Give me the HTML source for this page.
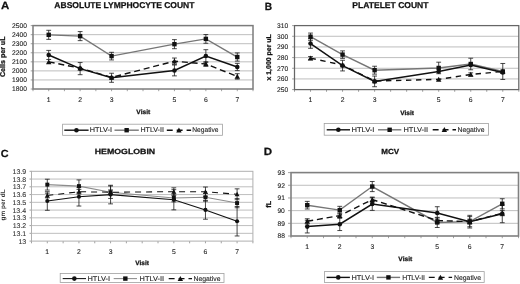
<!DOCTYPE html>
<html><head><meta charset="utf-8"><style>
html,body{margin:0;padding:0;background:#fff;}
body{width:520px;height:284px;overflow:hidden;}
svg{display:block;font-family:"Liberation Sans", sans-serif;will-change:transform;}
text{text-rendering:geometricPrecision;}
</style></head><body>
<svg width="520" height="284" viewBox="0 0 520 284">
<rect width="520" height="284" fill="#fff"/>
<line x1="30.7" y1="89" x2="33" y2="89" stroke="#8a8a8a" stroke-width="0.8"/>
<text x="12.06" y="91.4" font-size="6.7" stroke="#222" stroke-width="0.1" textLength="14.9" lengthAdjust="spacingAndGlyphs" fill="#222">1800</text>
<line x1="33" y1="79.94" x2="253" y2="79.94" stroke="#bebebe" stroke-width="1"/>
<line x1="30.7" y1="79.94" x2="33" y2="79.94" stroke="#8a8a8a" stroke-width="0.8"/>
<text x="12.06" y="82.34" font-size="6.7" stroke="#222" stroke-width="0.1" textLength="14.9" lengthAdjust="spacingAndGlyphs" fill="#222">1900</text>
<line x1="33" y1="70.89" x2="253" y2="70.89" stroke="#bebebe" stroke-width="1"/>
<line x1="30.7" y1="70.89" x2="33" y2="70.89" stroke="#8a8a8a" stroke-width="0.8"/>
<text x="12.06" y="73.28" font-size="6.7" stroke="#222" stroke-width="0.1" textLength="14.9" lengthAdjust="spacingAndGlyphs" fill="#222">2000</text>
<line x1="33" y1="61.83" x2="253" y2="61.83" stroke="#bebebe" stroke-width="1"/>
<line x1="30.7" y1="61.83" x2="33" y2="61.83" stroke="#8a8a8a" stroke-width="0.8"/>
<text x="12.06" y="64.23" font-size="6.7" stroke="#222" stroke-width="0.1" textLength="14.9" lengthAdjust="spacingAndGlyphs" fill="#222">2100</text>
<line x1="33" y1="52.77" x2="253" y2="52.77" stroke="#bebebe" stroke-width="1"/>
<line x1="30.7" y1="52.77" x2="33" y2="52.77" stroke="#8a8a8a" stroke-width="0.8"/>
<text x="12.06" y="55.17" font-size="6.7" stroke="#222" stroke-width="0.1" textLength="14.9" lengthAdjust="spacingAndGlyphs" fill="#222">2200</text>
<line x1="33" y1="43.71" x2="253" y2="43.71" stroke="#bebebe" stroke-width="1"/>
<line x1="30.7" y1="43.71" x2="33" y2="43.71" stroke="#8a8a8a" stroke-width="0.8"/>
<text x="12.06" y="46.11" font-size="6.7" stroke="#222" stroke-width="0.1" textLength="14.9" lengthAdjust="spacingAndGlyphs" fill="#222">2300</text>
<line x1="33" y1="34.66" x2="253" y2="34.66" stroke="#bebebe" stroke-width="1"/>
<line x1="30.7" y1="34.66" x2="33" y2="34.66" stroke="#8a8a8a" stroke-width="0.8"/>
<text x="12.06" y="37.06" font-size="6.7" stroke="#222" stroke-width="0.1" textLength="14.9" lengthAdjust="spacingAndGlyphs" fill="#222">2400</text>
<line x1="30.7" y1="25.6" x2="33" y2="25.6" stroke="#8a8a8a" stroke-width="0.8"/>
<text x="12.06" y="28" font-size="6.7" stroke="#222" stroke-width="0.1" textLength="14.9" lengthAdjust="spacingAndGlyphs" fill="#222">2500</text>
<line x1="33" y1="89" x2="33" y2="91.2" stroke="#8a8a8a" stroke-width="0.8"/>
<line x1="48.71" y1="89" x2="48.71" y2="91.2" stroke="#8a8a8a" stroke-width="0.8"/>
<line x1="64.43" y1="89" x2="64.43" y2="91.2" stroke="#8a8a8a" stroke-width="0.8"/>
<line x1="80.14" y1="89" x2="80.14" y2="91.2" stroke="#8a8a8a" stroke-width="0.8"/>
<line x1="95.86" y1="89" x2="95.86" y2="91.2" stroke="#8a8a8a" stroke-width="0.8"/>
<line x1="111.57" y1="89" x2="111.57" y2="91.2" stroke="#8a8a8a" stroke-width="0.8"/>
<line x1="127.29" y1="89" x2="127.29" y2="91.2" stroke="#8a8a8a" stroke-width="0.8"/>
<line x1="143" y1="89" x2="143" y2="91.2" stroke="#8a8a8a" stroke-width="0.8"/>
<line x1="158.71" y1="89" x2="158.71" y2="91.2" stroke="#8a8a8a" stroke-width="0.8"/>
<line x1="174.43" y1="89" x2="174.43" y2="91.2" stroke="#8a8a8a" stroke-width="0.8"/>
<line x1="190.14" y1="89" x2="190.14" y2="91.2" stroke="#8a8a8a" stroke-width="0.8"/>
<line x1="205.86" y1="89" x2="205.86" y2="91.2" stroke="#8a8a8a" stroke-width="0.8"/>
<line x1="221.57" y1="89" x2="221.57" y2="91.2" stroke="#8a8a8a" stroke-width="0.8"/>
<line x1="237.29" y1="89" x2="237.29" y2="91.2" stroke="#8a8a8a" stroke-width="0.8"/>
<line x1="253" y1="89" x2="253" y2="91.2" stroke="#8a8a8a" stroke-width="0.8"/>
<text x="46.73" y="101.8" font-size="6.8" stroke="#222" stroke-width="0.1" textLength="3.78" lengthAdjust="spacingAndGlyphs" fill="#222">1</text>
<text x="78.25" y="101.8" font-size="6.8" stroke="#222" stroke-width="0.1" textLength="3.78" lengthAdjust="spacingAndGlyphs" fill="#222">2</text>
<text x="109.7" y="101.8" font-size="6.8" stroke="#222" stroke-width="0.1" textLength="3.78" lengthAdjust="spacingAndGlyphs" fill="#222">3</text>
<text x="172.54" y="101.8" font-size="6.8" stroke="#222" stroke-width="0.1" textLength="3.78" lengthAdjust="spacingAndGlyphs" fill="#222">5</text>
<text x="203.94" y="101.8" font-size="6.8" stroke="#222" stroke-width="0.1" textLength="3.78" lengthAdjust="spacingAndGlyphs" fill="#222">6</text>
<text x="235.39" y="101.8" font-size="6.8" stroke="#222" stroke-width="0.1" textLength="3.78" lengthAdjust="spacingAndGlyphs" fill="#222">7</text>
<rect x="33" y="25.6" width="220" height="63.4" fill="none" stroke="#7c7c7c" stroke-width="1.5"/>
<path d="M48.71 30.31V39.37M46.31 30.31h4.8M46.31 39.37h4.8" stroke="#1a1a1a" stroke-width="0.8" fill="none"/>
<path d="M80.14 31.58V40.63M77.74 31.58h4.8M77.74 40.63h4.8" stroke="#1a1a1a" stroke-width="0.8" fill="none"/>
<path d="M111.57 52.32V59.93M109.17 52.32h4.8M109.17 59.93h4.8" stroke="#1a1a1a" stroke-width="0.8" fill="none"/>
<path d="M174.43 39.64V48.7M172.03 39.64h4.8M172.03 48.7h4.8" stroke="#1a1a1a" stroke-width="0.8" fill="none"/>
<path d="M205.86 34.57V43.26M203.46 34.57h4.8M203.46 43.26h4.8" stroke="#1a1a1a" stroke-width="0.8" fill="none"/>
<path d="M237.29 52.95V61.1M234.89 52.95h4.8M234.89 61.1h4.8" stroke="#1a1a1a" stroke-width="0.8" fill="none"/>
<path d="M48.71 50.42V59.47M46.31 50.42h4.8M46.31 59.47h4.8" stroke="#1a1a1a" stroke-width="0.8" fill="none"/>
<path d="M80.14 62.55V74.69M77.74 62.55h4.8M77.74 74.69h4.8" stroke="#1a1a1a" stroke-width="0.8" fill="none"/>
<path d="M111.57 73.24V82.3M109.17 73.24h4.8M109.17 82.3h4.8" stroke="#1a1a1a" stroke-width="0.8" fill="none"/>
<path d="M174.43 65V75.87M172.03 65h4.8M172.03 75.87h4.8" stroke="#1a1a1a" stroke-width="0.8" fill="none"/>
<path d="M205.86 49.69V62.37M203.46 49.69h4.8M203.46 62.37h4.8" stroke="#1a1a1a" stroke-width="0.8" fill="none"/>
<path d="M237.29 63.37V70.61M234.89 63.37h4.8M234.89 70.61h4.8" stroke="#1a1a1a" stroke-width="0.8" fill="none"/>
<path d="M174.43 58.02V64.36M172.03 58.02h4.8M172.03 64.36h4.8" stroke="#1a1a1a" stroke-width="0.8" fill="none"/>
<path d="M205.86 61.74V66.27M203.46 61.74h4.8M203.46 66.27h4.8" stroke="#1a1a1a" stroke-width="0.8" fill="none"/>
<path d="M237.29 73.69V79.13M234.89 73.69h4.8M234.89 79.13h4.8" stroke="#1a1a1a" stroke-width="0.8" fill="none"/>
<polyline points="48.71,34.84 80.14,36.11 111.57,56.12 174.43,44.17 205.86,38.91 237.29,57.03" fill="none" stroke="#767676" stroke-width="1.4"/>
<polyline points="48.71,61.83 80.14,68.17 111.57,77.41 174.43,61.19 205.86,64 237.29,76.41" fill="none" stroke="#111" stroke-width="1.4" stroke-dasharray="6 3.8"/>
<polyline points="48.71,54.95 80.14,68.62 111.57,77.77 174.43,70.43 205.86,56.03 237.29,66.99" fill="none" stroke="#111" stroke-width="1.5"/>
<rect x="46.51" y="32.64" width="4.4" height="4.4" fill="#111"/>
<rect x="77.94" y="33.91" width="4.4" height="4.4" fill="#111"/>
<rect x="109.37" y="53.92" width="4.4" height="4.4" fill="#111"/>
<rect x="172.23" y="41.97" width="4.4" height="4.4" fill="#111"/>
<rect x="203.66" y="36.71" width="4.4" height="4.4" fill="#111"/>
<rect x="235.09" y="54.83" width="4.4" height="4.4" fill="#111"/>
<path d="M48.71 59.13L51.41 64.13H46.01Z" fill="#111"/>
<path d="M80.14 65.47L82.84 70.47H77.44Z" fill="#111"/>
<path d="M111.57 74.71L114.27 79.71H108.87Z" fill="#111"/>
<path d="M174.43 58.49L177.13 63.49H171.73Z" fill="#111"/>
<path d="M205.86 61.3L208.56 66.3H203.16Z" fill="#111"/>
<path d="M237.29 73.71L239.99 78.71H234.59Z" fill="#111"/>
<circle cx="48.71" cy="54.95" r="2.3" fill="#111"/>
<circle cx="80.14" cy="68.62" r="2.3" fill="#111"/>
<circle cx="111.57" cy="77.77" r="2.3" fill="#111"/>
<circle cx="174.43" cy="70.43" r="2.3" fill="#111"/>
<circle cx="205.86" cy="56.03" r="2.3" fill="#111"/>
<circle cx="237.29" cy="66.99" r="2.3" fill="#111"/>
<text x="1.11" y="9.1" font-size="10.4" font-weight="bold" stroke="#111" stroke-width="0.25" textLength="8.29" lengthAdjust="spacingAndGlyphs" fill="#111">A</text>
<text x="54.39" y="7.6" font-size="8.5" font-weight="bold" stroke="#111" stroke-width="0.25" textLength="140.1" lengthAdjust="spacingAndGlyphs" fill="#111">ABSOLUTE LYMPHOCYTE COUNT</text>
<text transform="translate(4.6,76.99) rotate(-90)" x="0" y="0" font-size="7.0" font-weight="bold" stroke="#111" stroke-width="0.25" textLength="40.51" lengthAdjust="spacingAndGlyphs" fill="#111">Cells per uL</text>
<text x="136.36" y="113.8" font-size="6.3" font-weight="bold" stroke="#111" stroke-width="0.25" textLength="13.82" lengthAdjust="spacingAndGlyphs" fill="#111">Visit</text>
<rect x="62.6" y="124.2" width="159.8" height="11.1" fill="#fff" stroke="#a0a0a0" stroke-width="0.8"/>
<line x1="64.3" y1="130.2" x2="88.6" y2="130.2" stroke="#111" stroke-width="1.4"/>
<circle cx="76.45" cy="130.2" r="2.3" fill="#111"/>
<text x="89.83" y="132.3" font-size="6.8" stroke="#222" stroke-width="0.1" textLength="22.12" lengthAdjust="spacingAndGlyphs" fill="#222">HTLV-I</text>
<line x1="114.5" y1="130.2" x2="138.8" y2="130.2" stroke="#767676" stroke-width="1.4"/>
<rect x="124.45" y="128" width="4.4" height="4.4" fill="#111"/>
<text x="140.44" y="132.3" font-size="6.8" stroke="#222" stroke-width="0.1" textLength="23.49" lengthAdjust="spacingAndGlyphs" fill="#222">HTLV-II</text>
<line x1="166.8" y1="130.2" x2="191.1" y2="130.2" stroke="#111" stroke-width="1.4" stroke-dasharray="5.9 4"/>
<path d="M178.95 127.5L181.65 132.5H176.25Z" fill="#111"/>
<text x="192.25" y="132.3" font-size="6.8" stroke="#222" stroke-width="0.1" textLength="26.24" lengthAdjust="spacingAndGlyphs" fill="#222">Negative</text>
<line x1="292.1" y1="89.6" x2="294.5" y2="89.6" stroke="#8a8a8a" stroke-width="0.8"/>
<text x="276.98" y="92" font-size="6.7" stroke="#222" stroke-width="0.1" textLength="11.18" lengthAdjust="spacingAndGlyphs" fill="#222">250</text>
<line x1="294.5" y1="78.93" x2="518.8" y2="78.93" stroke="#bebebe" stroke-width="1"/>
<line x1="292.1" y1="78.93" x2="294.5" y2="78.93" stroke="#8a8a8a" stroke-width="0.8"/>
<text x="276.98" y="81.33" font-size="6.7" stroke="#222" stroke-width="0.1" textLength="11.18" lengthAdjust="spacingAndGlyphs" fill="#222">260</text>
<line x1="294.5" y1="68.27" x2="518.8" y2="68.27" stroke="#bebebe" stroke-width="1"/>
<line x1="292.1" y1="68.27" x2="294.5" y2="68.27" stroke="#8a8a8a" stroke-width="0.8"/>
<text x="276.98" y="70.67" font-size="6.7" stroke="#222" stroke-width="0.1" textLength="11.18" lengthAdjust="spacingAndGlyphs" fill="#222">270</text>
<line x1="294.5" y1="57.6" x2="518.8" y2="57.6" stroke="#bebebe" stroke-width="1"/>
<line x1="292.1" y1="57.6" x2="294.5" y2="57.6" stroke="#8a8a8a" stroke-width="0.8"/>
<text x="276.98" y="60" font-size="6.7" stroke="#222" stroke-width="0.1" textLength="11.18" lengthAdjust="spacingAndGlyphs" fill="#222">280</text>
<line x1="294.5" y1="46.93" x2="518.8" y2="46.93" stroke="#bebebe" stroke-width="1"/>
<line x1="292.1" y1="46.93" x2="294.5" y2="46.93" stroke="#8a8a8a" stroke-width="0.8"/>
<text x="276.98" y="49.33" font-size="6.7" stroke="#222" stroke-width="0.1" textLength="11.18" lengthAdjust="spacingAndGlyphs" fill="#222">290</text>
<line x1="294.5" y1="36.27" x2="518.8" y2="36.27" stroke="#bebebe" stroke-width="1"/>
<line x1="292.1" y1="36.27" x2="294.5" y2="36.27" stroke="#8a8a8a" stroke-width="0.8"/>
<text x="276.98" y="38.67" font-size="6.7" stroke="#222" stroke-width="0.1" textLength="11.18" lengthAdjust="spacingAndGlyphs" fill="#222">300</text>
<line x1="292.1" y1="25.6" x2="294.5" y2="25.6" stroke="#8a8a8a" stroke-width="0.8"/>
<text x="276.98" y="28" font-size="6.7" stroke="#222" stroke-width="0.1" textLength="11.18" lengthAdjust="spacingAndGlyphs" fill="#222">310</text>
<line x1="294.5" y1="89.6" x2="294.5" y2="91.8" stroke="#8a8a8a" stroke-width="0.8"/>
<line x1="310.52" y1="89.6" x2="310.52" y2="91.8" stroke="#8a8a8a" stroke-width="0.8"/>
<line x1="326.54" y1="89.6" x2="326.54" y2="91.8" stroke="#8a8a8a" stroke-width="0.8"/>
<line x1="342.56" y1="89.6" x2="342.56" y2="91.8" stroke="#8a8a8a" stroke-width="0.8"/>
<line x1="358.59" y1="89.6" x2="358.59" y2="91.8" stroke="#8a8a8a" stroke-width="0.8"/>
<line x1="374.61" y1="89.6" x2="374.61" y2="91.8" stroke="#8a8a8a" stroke-width="0.8"/>
<line x1="390.63" y1="89.6" x2="390.63" y2="91.8" stroke="#8a8a8a" stroke-width="0.8"/>
<line x1="406.65" y1="89.6" x2="406.65" y2="91.8" stroke="#8a8a8a" stroke-width="0.8"/>
<line x1="422.67" y1="89.6" x2="422.67" y2="91.8" stroke="#8a8a8a" stroke-width="0.8"/>
<line x1="438.69" y1="89.6" x2="438.69" y2="91.8" stroke="#8a8a8a" stroke-width="0.8"/>
<line x1="454.71" y1="89.6" x2="454.71" y2="91.8" stroke="#8a8a8a" stroke-width="0.8"/>
<line x1="470.74" y1="89.6" x2="470.74" y2="91.8" stroke="#8a8a8a" stroke-width="0.8"/>
<line x1="486.76" y1="89.6" x2="486.76" y2="91.8" stroke="#8a8a8a" stroke-width="0.8"/>
<line x1="502.78" y1="89.6" x2="502.78" y2="91.8" stroke="#8a8a8a" stroke-width="0.8"/>
<line x1="518.8" y1="89.6" x2="518.8" y2="91.8" stroke="#8a8a8a" stroke-width="0.8"/>
<text x="308.54" y="102.4" font-size="6.8" stroke="#222" stroke-width="0.1" textLength="3.78" lengthAdjust="spacingAndGlyphs" fill="#222">1</text>
<text x="340.67" y="102.4" font-size="6.8" stroke="#222" stroke-width="0.1" textLength="3.78" lengthAdjust="spacingAndGlyphs" fill="#222">2</text>
<text x="372.74" y="102.4" font-size="6.8" stroke="#222" stroke-width="0.1" textLength="3.78" lengthAdjust="spacingAndGlyphs" fill="#222">3</text>
<text x="436.81" y="102.4" font-size="6.8" stroke="#222" stroke-width="0.1" textLength="3.78" lengthAdjust="spacingAndGlyphs" fill="#222">5</text>
<text x="468.82" y="102.4" font-size="6.8" stroke="#222" stroke-width="0.1" textLength="3.78" lengthAdjust="spacingAndGlyphs" fill="#222">6</text>
<text x="500.88" y="102.4" font-size="6.8" stroke="#222" stroke-width="0.1" textLength="3.78" lengthAdjust="spacingAndGlyphs" fill="#222">7</text>
<rect x="294.5" y="25.6" width="224.3" height="64" fill="none" stroke="#666" stroke-width="1.25"/>
<path d="M310.52 33.07V40.32M308.12 33.07h4.8M308.12 40.32h4.8" stroke="#1a1a1a" stroke-width="0.8" fill="none"/>
<path d="M342.56 50.88V58.35M340.16 50.88h4.8M340.16 58.35h4.8" stroke="#1a1a1a" stroke-width="0.8" fill="none"/>
<path d="M374.61 66.24V74.13M372.21 66.24h4.8M372.21 74.13h4.8" stroke="#1a1a1a" stroke-width="0.8" fill="none"/>
<path d="M438.69 62.19V73.71M436.29 62.19h4.8M436.29 73.71h4.8" stroke="#1a1a1a" stroke-width="0.8" fill="none"/>
<path d="M470.74 58.24V69.76M468.34 58.24h4.8M468.34 69.76h4.8" stroke="#1a1a1a" stroke-width="0.8" fill="none"/>
<path d="M502.78 63.47V79.47M500.38 63.47h4.8M500.38 79.47h4.8" stroke="#1a1a1a" stroke-width="0.8" fill="none"/>
<path d="M310.52 38.72V48.32M308.12 38.72h4.8M308.12 48.32h4.8" stroke="#1a1a1a" stroke-width="0.8" fill="none"/>
<path d="M342.56 60.27V70.93M340.16 60.27h4.8M340.16 70.93h4.8" stroke="#1a1a1a" stroke-width="0.8" fill="none"/>
<path d="M374.61 76.05V86.72M372.21 76.05h4.8M372.21 86.72h4.8" stroke="#1a1a1a" stroke-width="0.8" fill="none"/>
<path d="M310.52 56.53V59.73M308.12 56.53h4.8M308.12 59.73h4.8" stroke="#1a1a1a" stroke-width="0.8" fill="none"/>
<path d="M470.74 72.85V76.05M468.34 72.85h4.8M468.34 76.05h4.8" stroke="#1a1a1a" stroke-width="0.8" fill="none"/>
<polyline points="310.52,36.69 342.56,54.61 374.61,70.19 438.69,67.95 470.74,64 502.78,71.47" fill="none" stroke="#767676" stroke-width="1.4"/>
<polyline points="310.52,58.13 342.56,65.07 374.61,81.07 438.69,79.36 470.74,74.45 502.78,71.47" fill="none" stroke="#111" stroke-width="1.4" stroke-dasharray="5.4 4.6"/>
<polyline points="310.52,43.52 342.56,65.6 374.61,81.39 438.69,71.47 470.74,65.07 502.78,72.53" fill="none" stroke="#111" stroke-width="1.5"/>
<rect x="308.32" y="34.49" width="4.4" height="4.4" fill="#111"/>
<rect x="340.36" y="52.41" width="4.4" height="4.4" fill="#111"/>
<rect x="372.41" y="67.99" width="4.4" height="4.4" fill="#111"/>
<rect x="436.49" y="65.75" width="4.4" height="4.4" fill="#111"/>
<rect x="468.54" y="61.8" width="4.4" height="4.4" fill="#111"/>
<rect x="500.58" y="69.27" width="4.4" height="4.4" fill="#111"/>
<path d="M310.52 55.43L313.22 60.43H307.82Z" fill="#111"/>
<path d="M342.56 62.37L345.26 67.37H339.86Z" fill="#111"/>
<path d="M374.61 78.37L377.31 83.37H371.91Z" fill="#111"/>
<path d="M438.69 76.66L441.39 81.66H435.99Z" fill="#111"/>
<path d="M470.74 71.75L473.44 76.75H468.04Z" fill="#111"/>
<path d="M502.78 68.77L505.48 73.77H500.08Z" fill="#111"/>
<circle cx="310.52" cy="43.52" r="2.3" fill="#111"/>
<circle cx="342.56" cy="65.6" r="2.3" fill="#111"/>
<circle cx="374.61" cy="81.39" r="2.3" fill="#111"/>
<circle cx="438.69" cy="71.47" r="2.3" fill="#111"/>
<circle cx="470.74" cy="65.07" r="2.3" fill="#111"/>
<circle cx="502.78" cy="72.53" r="2.3" fill="#111"/>
<text x="264.82" y="9.6" font-size="10.4" font-weight="bold" stroke="#111" stroke-width="0.25" textLength="7.34" lengthAdjust="spacingAndGlyphs" fill="#111">B</text>
<text x="352.33" y="7.6" font-size="8.5" font-weight="bold" stroke="#111" stroke-width="0.25" textLength="76.16" lengthAdjust="spacingAndGlyphs" fill="#111">PLATELET COUNT</text>
<text transform="translate(271.1,80.55) rotate(-90)" x="0" y="0" font-size="6.9" font-weight="bold" stroke="#111" stroke-width="0.25" textLength="46.36" lengthAdjust="spacingAndGlyphs" fill="#111">x 1,000 per uL</text>
<text x="400.26" y="114.8" font-size="6.3" font-weight="bold" stroke="#111" stroke-width="0.25" textLength="13.62" lengthAdjust="spacingAndGlyphs" fill="#111">Visit</text>
<rect x="324.2" y="123.5" width="164.3" height="11.7" fill="#fff" stroke="#a0a0a0" stroke-width="0.8"/>
<line x1="326.7" y1="129.8" x2="350" y2="129.8" stroke="#111" stroke-width="1.4"/>
<circle cx="338.35" cy="129.8" r="2.3" fill="#111"/>
<text x="351.51" y="131.9" font-size="6.8" stroke="#222" stroke-width="0.1" textLength="22.96" lengthAdjust="spacingAndGlyphs" fill="#222">HTLV-I</text>
<line x1="378" y1="129.8" x2="401.3" y2="129.8" stroke="#767676" stroke-width="1.4"/>
<rect x="387.45" y="127.6" width="4.4" height="4.4" fill="#111"/>
<text x="403.51" y="131.9" font-size="6.8" stroke="#222" stroke-width="0.1" textLength="24.65" lengthAdjust="spacingAndGlyphs" fill="#222">HTLV-II</text>
<line x1="432.7" y1="129.8" x2="456" y2="129.8" stroke="#111" stroke-width="1.4" stroke-dasharray="5.9 4"/>
<path d="M444.35 127.1L447.05 132.1H441.65Z" fill="#111"/>
<text x="457.54" y="131.9" font-size="6.8" stroke="#222" stroke-width="0.1" textLength="26.96" lengthAdjust="spacingAndGlyphs" fill="#222">Negative</text>
<line x1="29.5" y1="241.1" x2="31.5" y2="241.1" stroke="#8a8a8a" stroke-width="0.8"/>
<text x="18.42" y="243.61" font-size="7.0" stroke="#333" stroke-width="0.1" textLength="7.79" lengthAdjust="spacingAndGlyphs" fill="#333">13</text>
<line x1="31.5" y1="233.34" x2="252.9" y2="233.34" stroke="#bebebe" stroke-width="1"/>
<line x1="29.5" y1="233.34" x2="31.5" y2="233.34" stroke="#8a8a8a" stroke-width="0.8"/>
<text x="12.62" y="235.85" font-size="7.0" stroke="#333" stroke-width="0.1" textLength="13.62" lengthAdjust="spacingAndGlyphs" fill="#333">13.1</text>
<line x1="31.5" y1="225.59" x2="252.9" y2="225.59" stroke="#bebebe" stroke-width="1"/>
<line x1="29.5" y1="225.59" x2="31.5" y2="225.59" stroke="#8a8a8a" stroke-width="0.8"/>
<text x="12.63" y="228.09" font-size="7.0" stroke="#333" stroke-width="0.1" textLength="13.62" lengthAdjust="spacingAndGlyphs" fill="#333">13.2</text>
<line x1="31.5" y1="217.83" x2="252.9" y2="217.83" stroke="#bebebe" stroke-width="1"/>
<line x1="29.5" y1="217.83" x2="31.5" y2="217.83" stroke="#8a8a8a" stroke-width="0.8"/>
<text x="12.58" y="220.34" font-size="7.0" stroke="#333" stroke-width="0.1" textLength="13.62" lengthAdjust="spacingAndGlyphs" fill="#333">13.3</text>
<line x1="31.5" y1="210.08" x2="252.9" y2="210.08" stroke="#bebebe" stroke-width="1"/>
<line x1="29.5" y1="210.08" x2="31.5" y2="210.08" stroke="#8a8a8a" stroke-width="0.8"/>
<text x="12.48" y="212.58" font-size="7.0" stroke="#333" stroke-width="0.1" textLength="13.62" lengthAdjust="spacingAndGlyphs" fill="#333">13.4</text>
<line x1="31.5" y1="202.32" x2="252.9" y2="202.32" stroke="#bebebe" stroke-width="1"/>
<line x1="29.5" y1="202.32" x2="31.5" y2="202.32" stroke="#8a8a8a" stroke-width="0.8"/>
<text x="12.57" y="204.83" font-size="7.0" stroke="#333" stroke-width="0.1" textLength="13.62" lengthAdjust="spacingAndGlyphs" fill="#333">13.5</text>
<line x1="31.5" y1="194.57" x2="252.9" y2="194.57" stroke="#bebebe" stroke-width="1"/>
<line x1="29.5" y1="194.57" x2="31.5" y2="194.57" stroke="#8a8a8a" stroke-width="0.8"/>
<text x="12.58" y="197.07" font-size="7.0" stroke="#333" stroke-width="0.1" textLength="13.62" lengthAdjust="spacingAndGlyphs" fill="#333">13.6</text>
<line x1="31.5" y1="186.81" x2="252.9" y2="186.81" stroke="#bebebe" stroke-width="1"/>
<line x1="29.5" y1="186.81" x2="31.5" y2="186.81" stroke="#8a8a8a" stroke-width="0.8"/>
<text x="12.63" y="189.32" font-size="7.0" stroke="#333" stroke-width="0.1" textLength="13.62" lengthAdjust="spacingAndGlyphs" fill="#333">13.7</text>
<line x1="31.5" y1="179.06" x2="252.9" y2="179.06" stroke="#bebebe" stroke-width="1"/>
<line x1="29.5" y1="179.06" x2="31.5" y2="179.06" stroke="#8a8a8a" stroke-width="0.8"/>
<text x="12.58" y="181.56" font-size="7.0" stroke="#333" stroke-width="0.1" textLength="13.62" lengthAdjust="spacingAndGlyphs" fill="#333">13.8</text>
<line x1="29.5" y1="171.3" x2="31.5" y2="171.3" stroke="#8a8a8a" stroke-width="0.8"/>
<text x="12.61" y="173.81" font-size="7.0" stroke="#333" stroke-width="0.1" textLength="13.62" lengthAdjust="spacingAndGlyphs" fill="#333">13.9</text>
<line x1="31.5" y1="241.1" x2="31.5" y2="243.3" stroke="#8a8a8a" stroke-width="0.8"/>
<line x1="47.31" y1="241.1" x2="47.31" y2="243.3" stroke="#8a8a8a" stroke-width="0.8"/>
<line x1="63.13" y1="241.1" x2="63.13" y2="243.3" stroke="#8a8a8a" stroke-width="0.8"/>
<line x1="78.94" y1="241.1" x2="78.94" y2="243.3" stroke="#8a8a8a" stroke-width="0.8"/>
<line x1="94.76" y1="241.1" x2="94.76" y2="243.3" stroke="#8a8a8a" stroke-width="0.8"/>
<line x1="110.57" y1="241.1" x2="110.57" y2="243.3" stroke="#8a8a8a" stroke-width="0.8"/>
<line x1="126.39" y1="241.1" x2="126.39" y2="243.3" stroke="#8a8a8a" stroke-width="0.8"/>
<line x1="142.2" y1="241.1" x2="142.2" y2="243.3" stroke="#8a8a8a" stroke-width="0.8"/>
<line x1="158.01" y1="241.1" x2="158.01" y2="243.3" stroke="#8a8a8a" stroke-width="0.8"/>
<line x1="173.83" y1="241.1" x2="173.83" y2="243.3" stroke="#8a8a8a" stroke-width="0.8"/>
<line x1="189.64" y1="241.1" x2="189.64" y2="243.3" stroke="#8a8a8a" stroke-width="0.8"/>
<line x1="205.46" y1="241.1" x2="205.46" y2="243.3" stroke="#8a8a8a" stroke-width="0.8"/>
<line x1="221.27" y1="241.1" x2="221.27" y2="243.3" stroke="#8a8a8a" stroke-width="0.8"/>
<line x1="237.09" y1="241.1" x2="237.09" y2="243.3" stroke="#8a8a8a" stroke-width="0.8"/>
<line x1="252.9" y1="241.1" x2="252.9" y2="243.3" stroke="#8a8a8a" stroke-width="0.8"/>
<text x="45.33" y="253.9" font-size="6.8" stroke="#222" stroke-width="0.1" textLength="3.78" lengthAdjust="spacingAndGlyphs" fill="#222">1</text>
<text x="77.05" y="253.9" font-size="6.8" stroke="#222" stroke-width="0.1" textLength="3.78" lengthAdjust="spacingAndGlyphs" fill="#222">2</text>
<text x="108.7" y="253.9" font-size="6.8" stroke="#222" stroke-width="0.1" textLength="3.78" lengthAdjust="spacingAndGlyphs" fill="#222">3</text>
<text x="171.94" y="253.9" font-size="6.8" stroke="#222" stroke-width="0.1" textLength="3.78" lengthAdjust="spacingAndGlyphs" fill="#222">5</text>
<text x="203.54" y="253.9" font-size="6.8" stroke="#222" stroke-width="0.1" textLength="3.78" lengthAdjust="spacingAndGlyphs" fill="#222">6</text>
<text x="235.19" y="253.9" font-size="6.8" stroke="#222" stroke-width="0.1" textLength="3.78" lengthAdjust="spacingAndGlyphs" fill="#222">7</text>
<rect x="31.5" y="171.3" width="221.4" height="69.8" fill="none" stroke="#b0b0b0" stroke-width="1.0"/>
<path d="M47.31 179.21V190.07M44.91 179.21h4.8M44.91 190.07h4.8" stroke="#1a1a1a" stroke-width="0.8" fill="none"/>
<path d="M78.94 179.91V192.32M76.54 179.91h4.8M76.54 192.32h4.8" stroke="#1a1a1a" stroke-width="0.8" fill="none"/>
<path d="M110.57 186.04V198.44M108.17 186.04h4.8M108.17 198.44h4.8" stroke="#1a1a1a" stroke-width="0.8" fill="none"/>
<path d="M173.83 194.1V201.86M171.43 194.1h4.8M171.43 201.86h4.8" stroke="#1a1a1a" stroke-width="0.8" fill="none"/>
<path d="M205.46 193.4V201.16M203.06 193.4h4.8M203.06 201.16h4.8" stroke="#1a1a1a" stroke-width="0.8" fill="none"/>
<path d="M237.09 198.44V207.75M234.69 198.44h4.8M234.69 207.75h4.8" stroke="#1a1a1a" stroke-width="0.8" fill="none"/>
<path d="M47.31 191.7V210.31M44.91 191.7h4.8M44.91 210.31h4.8" stroke="#1a1a1a" stroke-width="0.8" fill="none"/>
<path d="M78.94 187.43V206.04M76.54 187.43h4.8M76.54 206.04h4.8" stroke="#1a1a1a" stroke-width="0.8" fill="none"/>
<path d="M110.57 185.26V203.87M108.17 185.26h4.8M108.17 203.87h4.8" stroke="#1a1a1a" stroke-width="0.8" fill="none"/>
<path d="M173.83 189.68V209.85M171.43 189.68h4.8M171.43 209.85h4.8" stroke="#1a1a1a" stroke-width="0.8" fill="none"/>
<path d="M205.46 200.62V219.23M203.06 200.62h4.8M203.06 219.23h4.8" stroke="#1a1a1a" stroke-width="0.8" fill="none"/>
<path d="M237.09 206.51V235.98M234.69 206.51h4.8M234.69 235.98h4.8" stroke="#1a1a1a" stroke-width="0.8" fill="none"/>
<path d="M47.31 193.17V197.82M44.91 193.17h4.8M44.91 197.82h4.8" stroke="#1a1a1a" stroke-width="0.8" fill="none"/>
<path d="M78.94 189.37V194.02M76.54 189.37h4.8M76.54 194.02h4.8" stroke="#1a1a1a" stroke-width="0.8" fill="none"/>
<path d="M110.57 189.91V194.57M108.17 189.91h4.8M108.17 194.57h4.8" stroke="#1a1a1a" stroke-width="0.8" fill="none"/>
<path d="M173.83 187.82V195.57M171.43 187.82h4.8M171.43 195.57h4.8" stroke="#1a1a1a" stroke-width="0.8" fill="none"/>
<path d="M205.46 187.04V196.35M203.06 187.04h4.8M203.06 196.35h4.8" stroke="#1a1a1a" stroke-width="0.8" fill="none"/>
<path d="M237.09 188.83V199.69M234.69 188.83h4.8M234.69 199.69h4.8" stroke="#1a1a1a" stroke-width="0.8" fill="none"/>
<polyline points="47.31,184.64 78.94,186.11 110.57,192.24 173.83,197.98 205.46,197.28 237.09,203.1" fill="none" stroke="#8c8c8c" stroke-width="1.05"/>
<polyline points="47.31,195.5 78.94,191.7 110.57,192.24 173.83,191.7 205.46,191.7 237.09,194.26" fill="none" stroke="#111" stroke-width="1.05" stroke-dasharray="6 5"/>
<polyline points="47.31,201 78.94,196.74 110.57,194.57 173.83,199.76 205.46,209.92 237.09,221.25" fill="none" stroke="#111" stroke-width="1.15"/>
<rect x="45.33" y="182.66" width="3.96" height="3.96" fill="#111"/>
<rect x="76.96" y="184.13" width="3.96" height="3.96" fill="#111"/>
<rect x="108.59" y="190.26" width="3.96" height="3.96" fill="#111"/>
<rect x="171.85" y="196" width="3.96" height="3.96" fill="#111"/>
<rect x="203.48" y="195.3" width="3.96" height="3.96" fill="#111"/>
<rect x="235.11" y="201.12" width="3.96" height="3.96" fill="#111"/>
<path d="M47.31 193.07L49.74 197.57H44.88Z" fill="#111"/>
<path d="M78.94 189.27L81.37 193.77H76.51Z" fill="#111"/>
<path d="M110.57 189.81L113 194.31H108.14Z" fill="#111"/>
<path d="M173.83 189.27L176.26 193.77H171.4Z" fill="#111"/>
<path d="M205.46 189.27L207.89 193.77H203.03Z" fill="#111"/>
<path d="M237.09 191.83L239.52 196.33H234.66Z" fill="#111"/>
<circle cx="47.31" cy="201" r="2.07" fill="#111"/>
<circle cx="78.94" cy="196.74" r="2.07" fill="#111"/>
<circle cx="110.57" cy="194.57" r="2.07" fill="#111"/>
<circle cx="173.83" cy="199.76" r="2.07" fill="#111"/>
<circle cx="205.46" cy="209.92" r="2.07" fill="#111"/>
<circle cx="237.09" cy="221.25" r="2.07" fill="#111"/>
<text x="0.75" y="156.7" font-size="10.4" font-weight="bold" stroke="#111" stroke-width="0.25" textLength="7.84" lengthAdjust="spacingAndGlyphs" fill="#111">C</text>
<text x="94.81" y="153.9" font-size="7.5" font-weight="bold" stroke="#111" stroke-width="0.25" textLength="60.38" lengthAdjust="spacingAndGlyphs" fill="#111">HEMOGLOBIN</text>
<text transform="translate(4.5,220.46) rotate(-90)" x="0" y="0" font-size="6.3" font-weight="bold" textLength="31.06" lengthAdjust="spacingAndGlyphs" fill="#333">gm per dL</text>
<text x="135.36" y="264.8" font-size="6.3" font-weight="bold" stroke="#111" stroke-width="0.25" textLength="13.52" lengthAdjust="spacingAndGlyphs" fill="#111">Visit</text>
<rect x="60.2" y="273.5" width="163.8" height="9" fill="#fff" stroke="#a0a0a0" stroke-width="0.8"/>
<line x1="62.7" y1="278.6" x2="86" y2="278.6" stroke="#111" stroke-width="1.05"/>
<circle cx="74.35" cy="278.6" r="2.3" fill="#111"/>
<text x="87.52" y="280.7" font-size="6.8" stroke="#222" stroke-width="0.1" textLength="22.54" lengthAdjust="spacingAndGlyphs" fill="#222">HTLV-I</text>
<line x1="113.7" y1="278.6" x2="137" y2="278.6" stroke="#8c8c8c" stroke-width="1.05"/>
<rect x="123.15" y="276.4" width="4.4" height="4.4" fill="#111"/>
<text x="139.62" y="280.7" font-size="6.8" stroke="#222" stroke-width="0.1" textLength="24.44" lengthAdjust="spacingAndGlyphs" fill="#222">HTLV-II</text>
<line x1="168.7" y1="278.6" x2="192" y2="278.6" stroke="#111" stroke-width="1.05" stroke-dasharray="5.9 4"/>
<path d="M180.35 275.9L183.05 280.9H177.65Z" fill="#111"/>
<text x="193.54" y="280.7" font-size="6.8" stroke="#222" stroke-width="0.1" textLength="26.96" lengthAdjust="spacingAndGlyphs" fill="#222">Negative</text>
<line x1="288" y1="236" x2="291" y2="236" stroke="#8a8a8a" stroke-width="0.8"/>
<text x="277.44" y="238.4" font-size="6.7" stroke="#222" stroke-width="0.1" textLength="7.45" lengthAdjust="spacingAndGlyphs" fill="#222">88</text>
<line x1="291" y1="223.32" x2="518.5" y2="223.32" stroke="#bebebe" stroke-width="1"/>
<line x1="288" y1="223.32" x2="291" y2="223.32" stroke="#8a8a8a" stroke-width="0.8"/>
<text x="277.46" y="225.72" font-size="6.7" stroke="#222" stroke-width="0.1" textLength="7.45" lengthAdjust="spacingAndGlyphs" fill="#222">89</text>
<line x1="291" y1="210.64" x2="518.5" y2="210.64" stroke="#bebebe" stroke-width="1"/>
<line x1="288" y1="210.64" x2="291" y2="210.64" stroke="#8a8a8a" stroke-width="0.8"/>
<text x="277.41" y="213.04" font-size="6.7" stroke="#222" stroke-width="0.1" textLength="7.45" lengthAdjust="spacingAndGlyphs" fill="#222">90</text>
<line x1="291" y1="197.96" x2="518.5" y2="197.96" stroke="#bebebe" stroke-width="1"/>
<line x1="288" y1="197.96" x2="291" y2="197.96" stroke="#8a8a8a" stroke-width="0.8"/>
<text x="277.47" y="200.36" font-size="6.7" stroke="#222" stroke-width="0.1" textLength="7.45" lengthAdjust="spacingAndGlyphs" fill="#222">91</text>
<line x1="291" y1="185.28" x2="518.5" y2="185.28" stroke="#bebebe" stroke-width="1"/>
<line x1="288" y1="185.28" x2="291" y2="185.28" stroke="#8a8a8a" stroke-width="0.8"/>
<text x="277.48" y="187.68" font-size="6.7" stroke="#222" stroke-width="0.1" textLength="7.45" lengthAdjust="spacingAndGlyphs" fill="#222">92</text>
<line x1="288" y1="172.6" x2="291" y2="172.6" stroke="#8a8a8a" stroke-width="0.8"/>
<text x="277.44" y="175" font-size="6.7" stroke="#222" stroke-width="0.1" textLength="7.45" lengthAdjust="spacingAndGlyphs" fill="#222">93</text>
<line x1="291" y1="236" x2="291" y2="238.2" stroke="#8a8a8a" stroke-width="0.8"/>
<line x1="307.25" y1="236" x2="307.25" y2="238.2" stroke="#8a8a8a" stroke-width="0.8"/>
<line x1="323.5" y1="236" x2="323.5" y2="238.2" stroke="#8a8a8a" stroke-width="0.8"/>
<line x1="339.75" y1="236" x2="339.75" y2="238.2" stroke="#8a8a8a" stroke-width="0.8"/>
<line x1="356" y1="236" x2="356" y2="238.2" stroke="#8a8a8a" stroke-width="0.8"/>
<line x1="372.25" y1="236" x2="372.25" y2="238.2" stroke="#8a8a8a" stroke-width="0.8"/>
<line x1="388.5" y1="236" x2="388.5" y2="238.2" stroke="#8a8a8a" stroke-width="0.8"/>
<line x1="404.75" y1="236" x2="404.75" y2="238.2" stroke="#8a8a8a" stroke-width="0.8"/>
<line x1="421" y1="236" x2="421" y2="238.2" stroke="#8a8a8a" stroke-width="0.8"/>
<line x1="437.25" y1="236" x2="437.25" y2="238.2" stroke="#8a8a8a" stroke-width="0.8"/>
<line x1="453.5" y1="236" x2="453.5" y2="238.2" stroke="#8a8a8a" stroke-width="0.8"/>
<line x1="469.75" y1="236" x2="469.75" y2="238.2" stroke="#8a8a8a" stroke-width="0.8"/>
<line x1="486" y1="236" x2="486" y2="238.2" stroke="#8a8a8a" stroke-width="0.8"/>
<line x1="502.25" y1="236" x2="502.25" y2="238.2" stroke="#8a8a8a" stroke-width="0.8"/>
<line x1="518.5" y1="236" x2="518.5" y2="238.2" stroke="#8a8a8a" stroke-width="0.8"/>
<text x="305.27" y="248.8" font-size="6.8" stroke="#222" stroke-width="0.1" textLength="3.78" lengthAdjust="spacingAndGlyphs" fill="#222">1</text>
<text x="337.86" y="248.8" font-size="6.8" stroke="#222" stroke-width="0.1" textLength="3.78" lengthAdjust="spacingAndGlyphs" fill="#222">2</text>
<text x="370.38" y="248.8" font-size="6.8" stroke="#222" stroke-width="0.1" textLength="3.78" lengthAdjust="spacingAndGlyphs" fill="#222">3</text>
<text x="435.37" y="248.8" font-size="6.8" stroke="#222" stroke-width="0.1" textLength="3.78" lengthAdjust="spacingAndGlyphs" fill="#222">5</text>
<text x="467.84" y="248.8" font-size="6.8" stroke="#222" stroke-width="0.1" textLength="3.78" lengthAdjust="spacingAndGlyphs" fill="#222">6</text>
<text x="500.36" y="248.8" font-size="6.8" stroke="#222" stroke-width="0.1" textLength="3.78" lengthAdjust="spacingAndGlyphs" fill="#222">7</text>
<rect x="291" y="172.6" width="227.5" height="63.4" fill="none" stroke="#808080" stroke-width="1.6"/>
<path d="M307.25 201.38V208.99M304.85 201.38h4.8M304.85 208.99h4.8" stroke="#1a1a1a" stroke-width="0.8" fill="none"/>
<path d="M339.75 206.33V213.94M337.35 206.33h4.8M337.35 213.94h4.8" stroke="#1a1a1a" stroke-width="0.8" fill="none"/>
<path d="M372.25 181.48V191.62M369.85 181.48h4.8M369.85 191.62h4.8" stroke="#1a1a1a" stroke-width="0.8" fill="none"/>
<path d="M437.25 217.36V227.5M434.85 217.36h4.8M434.85 227.5h4.8" stroke="#1a1a1a" stroke-width="0.8" fill="none"/>
<path d="M469.75 216.6V226.74M467.35 216.6h4.8M467.35 226.74h4.8" stroke="#1a1a1a" stroke-width="0.8" fill="none"/>
<path d="M502.25 198.72V208.86M499.85 198.72h4.8M499.85 208.86h4.8" stroke="#1a1a1a" stroke-width="0.8" fill="none"/>
<path d="M307.25 220.28V232.96M304.85 220.28h4.8M304.85 232.96h4.8" stroke="#1a1a1a" stroke-width="0.8" fill="none"/>
<path d="M339.75 217.87V230.55M337.35 217.87h4.8M337.35 230.55h4.8" stroke="#1a1a1a" stroke-width="0.8" fill="none"/>
<path d="M372.25 197.71V210.39M369.85 197.71h4.8M369.85 210.39h4.8" stroke="#1a1a1a" stroke-width="0.8" fill="none"/>
<path d="M437.25 206.71V219.39M434.85 206.71h4.8M434.85 219.39h4.8" stroke="#1a1a1a" stroke-width="0.8" fill="none"/>
<path d="M469.75 215.33V228.01M467.35 215.33h4.8M467.35 228.01h4.8" stroke="#1a1a1a" stroke-width="0.8" fill="none"/>
<path d="M502.25 204.93V222.69M499.85 204.93h4.8M499.85 222.69h4.8" stroke="#1a1a1a" stroke-width="0.8" fill="none"/>
<path d="M307.25 218.76V223.83M304.85 218.76h4.8M304.85 223.83h4.8" stroke="#1a1a1a" stroke-width="0.8" fill="none"/>
<path d="M339.75 213.05V218.12M337.35 213.05h4.8M337.35 218.12h4.8" stroke="#1a1a1a" stroke-width="0.8" fill="none"/>
<path d="M372.25 197.07V202.14M369.85 197.07h4.8M369.85 202.14h4.8" stroke="#1a1a1a" stroke-width="0.8" fill="none"/>
<path d="M437.25 217.99V223.07M434.85 217.99h4.8M434.85 223.07h4.8" stroke="#1a1a1a" stroke-width="0.8" fill="none"/>
<path d="M469.75 219.14V224.21M467.35 219.14h4.8M467.35 224.21h4.8" stroke="#1a1a1a" stroke-width="0.8" fill="none"/>
<path d="M502.25 210.64V215.71M499.85 210.64h4.8M499.85 215.71h4.8" stroke="#1a1a1a" stroke-width="0.8" fill="none"/>
<polyline points="307.25,205.19 339.75,210.13 372.25,186.55 437.25,222.43 469.75,221.67 502.25,203.79" fill="none" stroke="#767676" stroke-width="1.4"/>
<polyline points="307.25,221.29 339.75,215.59 372.25,199.61 437.25,220.53 469.75,221.67 502.25,213.18" fill="none" stroke="#111" stroke-width="1.4" stroke-dasharray="6 3.8"/>
<polyline points="307.25,226.62 339.75,224.21 372.25,204.05 437.25,213.05 469.75,221.67 502.25,213.81" fill="none" stroke="#111" stroke-width="1.5"/>
<rect x="305.05" y="202.99" width="4.4" height="4.4" fill="#111"/>
<rect x="337.55" y="207.93" width="4.4" height="4.4" fill="#111"/>
<rect x="370.05" y="184.35" width="4.4" height="4.4" fill="#111"/>
<rect x="435.05" y="220.23" width="4.4" height="4.4" fill="#111"/>
<rect x="467.55" y="219.47" width="4.4" height="4.4" fill="#111"/>
<rect x="500.05" y="201.59" width="4.4" height="4.4" fill="#111"/>
<path d="M307.25 218.59L309.95 223.59H304.55Z" fill="#111"/>
<path d="M339.75 212.89L342.45 217.89H337.05Z" fill="#111"/>
<path d="M372.25 196.91L374.95 201.91H369.55Z" fill="#111"/>
<path d="M437.25 217.83L439.95 222.83H434.55Z" fill="#111"/>
<path d="M469.75 218.97L472.45 223.97H467.05Z" fill="#111"/>
<path d="M502.25 210.48L504.95 215.48H499.55Z" fill="#111"/>
<circle cx="307.25" cy="226.62" r="2.3" fill="#111"/>
<circle cx="339.75" cy="224.21" r="2.3" fill="#111"/>
<circle cx="372.25" cy="204.05" r="2.3" fill="#111"/>
<circle cx="437.25" cy="213.05" r="2.3" fill="#111"/>
<circle cx="469.75" cy="221.67" r="2.3" fill="#111"/>
<circle cx="502.25" cy="213.81" r="2.3" fill="#111"/>
<text x="263.83" y="154.6" font-size="10.4" font-weight="bold" stroke="#111" stroke-width="0.25" textLength="8.36" lengthAdjust="spacingAndGlyphs" fill="#111">D</text>
<text x="381.36" y="154.3" font-size="7.4" font-weight="bold" stroke="#111" stroke-width="0.25" textLength="17.89" lengthAdjust="spacingAndGlyphs" fill="#111">MCV</text>
<text transform="translate(271,207.72) rotate(-90)" x="0" y="0" font-size="7.0" font-weight="bold" stroke="#111" stroke-width="0.25" textLength="6.74" lengthAdjust="spacingAndGlyphs" fill="#111">fL</text>
<text x="398.36" y="261" font-size="6.3" font-weight="bold" stroke="#111" stroke-width="0.25" textLength="13.82" lengthAdjust="spacingAndGlyphs" fill="#111">Visit</text>
<rect x="324.4" y="271.6" width="159.8" height="10.8" fill="#fff" stroke="#a0a0a0" stroke-width="0.8"/>
<line x1="326.6" y1="277.4" x2="349.9" y2="277.4" stroke="#111" stroke-width="1.4"/>
<circle cx="338.25" cy="277.4" r="2.3" fill="#111"/>
<text x="351.52" y="279.5" font-size="6.8" stroke="#222" stroke-width="0.1" textLength="22.43" lengthAdjust="spacingAndGlyphs" fill="#222">HTLV-I</text>
<line x1="376.8" y1="277.4" x2="400.1" y2="277.4" stroke="#767676" stroke-width="1.4"/>
<rect x="386.25" y="275.2" width="4.4" height="4.4" fill="#111"/>
<text x="402.16" y="279.5" font-size="6.8" stroke="#222" stroke-width="0.1" textLength="22.86" lengthAdjust="spacingAndGlyphs" fill="#222">HTLV-II</text>
<line x1="428.8" y1="277.4" x2="452.1" y2="277.4" stroke="#111" stroke-width="1.4" stroke-dasharray="5.9 4"/>
<path d="M440.45 274.7L443.15 279.7H437.75Z" fill="#111"/>
<text x="454.04" y="279.5" font-size="6.8" stroke="#222" stroke-width="0.1" textLength="27.07" lengthAdjust="spacingAndGlyphs" fill="#222">Negative</text>
</svg>
</body></html>
